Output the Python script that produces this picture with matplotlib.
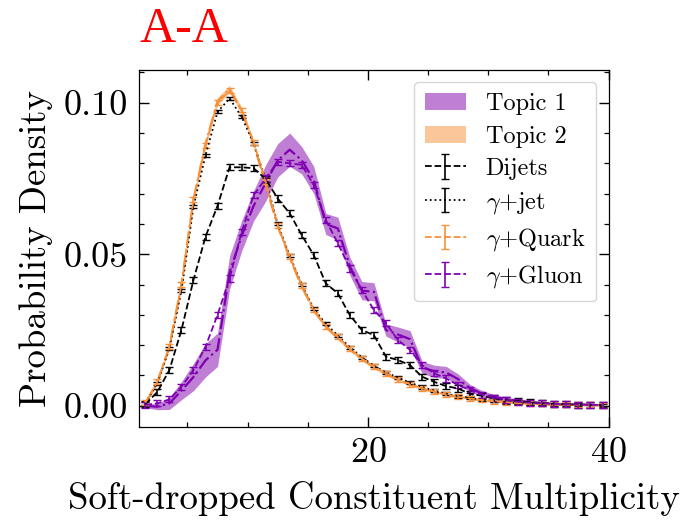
import numpy as np
import matplotlib
matplotlib.use("Agg")
import matplotlib.pyplot as plt
from matplotlib.ticker import MultipleLocator

plt.rcParams['font.family'] = 'serif'
plt.rcParams['font.serif'] = ['cmr10']
plt.rcParams['mathtext.fontset'] = 'cm'
plt.rcParams['axes.formatter.use_mathtext'] = True
plt.rcParams['axes.unicode_minus'] = False

# multiplicity bin centres
mult = np.arange(1.5, 40.5, 1.0)

dijets = [0.0005, 0.0046, 0.0118, 0.025, 0.0415, 0.0558, 0.066, 0.0787, 0.0787, 0.0784,
          0.0748, 0.0684, 0.0635, 0.0563, 0.0497, 0.0404, 0.0371, 0.0299, 0.025, 0.0233,
          0.0162, 0.0151, 0.0134, 0.0096, 0.0079, 0.0065, 0.0057, 0.0039, 0.0033, 0.0024,
          0.0019, 0.0015, 0.0012, 0.0009, 0.0007, 0.0005, 0.0004, 0.0003, 0.0002]
gamma_jet = [0.0008, 0.0075, 0.019, 0.038, 0.0657, 0.0827, 0.097, 0.1014, 0.0954, 0.0866,
             0.0745, 0.060, 0.0495, 0.040, 0.032, 0.027, 0.0232, 0.0193, 0.016, 0.0132,
             0.011, 0.0093, 0.0076, 0.0062, 0.005, 0.004, 0.0032, 0.0026, 0.002, 0.0016,
             0.0012, 0.001, 0.0008, 0.0006, 0.0005, 0.0004, 0.0003, 0.0002, 0.0002]
gamma_quark = [0.001, 0.008, 0.0195, 0.040, 0.068, 0.086, 0.100, 0.104, 0.0976, 0.087,
               0.074, 0.0596, 0.0492, 0.0398, 0.0316, 0.0263, 0.0228, 0.0189, 0.0156, 0.0129,
               0.0107, 0.0087, 0.0071, 0.0058, 0.0047, 0.0037, 0.003, 0.0024, 0.0019, 0.0015,
               0.0012, 0.0009, 0.0007, 0.0006, 0.0005, 0.0004, 0.0003, 0.0003, 0.0002]
gamma_gluon = [0.0003, 0.0008, 0.0021, 0.0063, 0.0118, 0.0195, 0.030, 0.042, 0.0574, 0.0695,
               0.075, 0.0805, 0.080, 0.0795, 0.0728, 0.0613, 0.0536, 0.0453, 0.0382, 0.0316,
               0.0272, 0.0217, 0.0184, 0.0134, 0.0107, 0.009, 0.0068, 0.0052, 0.0036, 0.0027,
               0.0019, 0.0013, 0.001, 0.0008, 0.0006, 0.0005, 0.0004, 0.0003, 0.0003]

dijets_err = 0.0010
gamma_jet_err = 0.0005
gamma_quark_err = 0.0008
gamma_gluon_err = 0.0010

topic1 = [0.0, -0.0003, 0.0008, 0.005, 0.0095, 0.015, 0.0185, 0.044, 0.056, 0.066,
          0.0735, 0.081, 0.0845, 0.081, 0.0745, 0.060, 0.0585, 0.046, 0.038, 0.0376,
          0.025, 0.0235, 0.022, 0.0127, 0.0114, 0.011, 0.0088, 0.0058, 0.004, 0.0029,
          0.0022, 0.0016, 0.0012, 0.0008, 0.0006, 0.0005, 0.0004, 0.0003, 0.0003]
topic1_width = [0.0006, 0.001, 0.002, 0.003, 0.0045, 0.0055, 0.0055, 0.0055, 0.005, 0.005,
                0.006, 0.0055, 0.0055, 0.0045, 0.0045, 0.0035, 0.0037, 0.003, 0.003, 0.003,
                0.002, 0.0025, 0.0028, 0.002, 0.002, 0.002, 0.0017, 0.0012, 0.001, 0.0008,
                0.0007, 0.0006, 0.0005, 0.0005, 0.0004, 0.0004, 0.0003, 0.0003, 0.0003]
topic2 = [0.0008, 0.0078, 0.0195, 0.040, 0.068, 0.0865, 0.1005, 0.1045, 0.0975, 0.0865,
          0.073, 0.0592, 0.0488, 0.0393, 0.0315, 0.026, 0.0224, 0.0186, 0.0154, 0.0127,
          0.0105, 0.0086, 0.007, 0.0057, 0.0046, 0.0036, 0.0029, 0.0023, 0.0018, 0.0014,
          0.0011, 0.0009, 0.0007, 0.0005, 0.0004, 0.0003, 0.0003, 0.0002, 0.0002]
topic2_width = [0.0005, 0.0007, 0.0008, 0.001, 0.0012, 0.0012, 0.0013, 0.0012, 0.0011, 0.001,
                0.0009, 0.0008, 0.0008, 0.0007, 0.0007, 0.0006, 0.0006, 0.0006, 0.0005, 0.0005,
                0.0005, 0.0004, 0.0004, 0.0004, 0.0003, 0.0003, 0.0003, 0.0003, 0.0003, 0.0002,
                0.0002, 0.0002, 0.0002, 0.0002, 0.0002, 0.0002, 0.0002, 0.0002, 0.0002]

purple = '#7f00b2'
orange = '#f8913a'

topic1 = np.array(topic1)
topic2 = np.array(topic2)
topic1_width = np.array(topic1_width)
topic2_width = np.array(topic2_width)

fig = plt.figure(figsize=(6.81, 5.2), dpi=100)
ax = fig.add_axes([0.2046, 0.1794, 0.689, 0.686])

ax.fill_between(mult, topic1 - topic1_width, topic1 + topic1_width,
                color='#8000aa', alpha=0.5, lw=0, label='Topic 1')
ax.fill_between(mult, topic2 - topic2_width, topic2 + topic2_width,
                color='#f99137', alpha=0.5, lw=0, label='Topic 2')
ax.plot(mult, topic1, color=purple, ls='-.', lw=1.6)
ax.plot(mult, topic2, color=orange, ls='-.', lw=1.6)

ax.errorbar(mult, dijets, yerr=dijets_err, color='k', ls='--', lw=1.3,
            capsize=2.8, elinewidth=1.2, label='Dijets')
ax.errorbar(mult, gamma_jet, yerr=gamma_jet_err, color='k', ls=':', lw=1.3,
            capsize=2.8, elinewidth=1.2, label=r'$\gamma$+jet')
ax.errorbar(mult, gamma_quark, yerr=gamma_quark_err, color=orange, ls='--', lw=1.3,
            capsize=2.8, elinewidth=1.2, label=r'$\gamma$+Quark')
ax.errorbar(mult, gamma_gluon, yerr=gamma_gluon_err, color=purple, ls='--', lw=1.3,
            capsize=2.8, elinewidth=1.2, label=r'$\gamma$+Gluon')

ax.set_xlim(1, 40)
ax.set_ylim(-0.0069, 0.1108)
ax.xaxis.set_major_locator(MultipleLocator(20))
ax.xaxis.set_minor_locator(MultipleLocator(5))
ax.yaxis.set_major_locator(MultipleLocator(0.05))
ax.yaxis.set_minor_locator(MultipleLocator(0.01))
ax.yaxis.set_major_formatter(plt.FormatStrFormatter('%.2f'))
ax.tick_params(which='both', direction='in', top=True, right=True, labelsize=26)
ax.tick_params(which='major', length=7, width=1.0, pad=8)
ax.tick_params(which='minor', length=3.5, width=0.9)
for s in ax.spines.values():
    s.set_linewidth(0.9)

ax.set_xlabel('Soft-dropped Constituent Multiplicity', fontsize=26.5, labelpad=8)
ax.set_ylabel('Probability Density', fontsize=26.5, labelpad=8)
ax.set_title('A-A', loc='left', color='red', fontsize=36,
             family='Liberation Serif', pad=20)

ax.legend(loc='upper right', fontsize=17.5, labelspacing=0.42, handlelength=1.7,
          handletextpad=0.8, borderpad=0.45)

fig.savefig('out.png', dpi=100)
